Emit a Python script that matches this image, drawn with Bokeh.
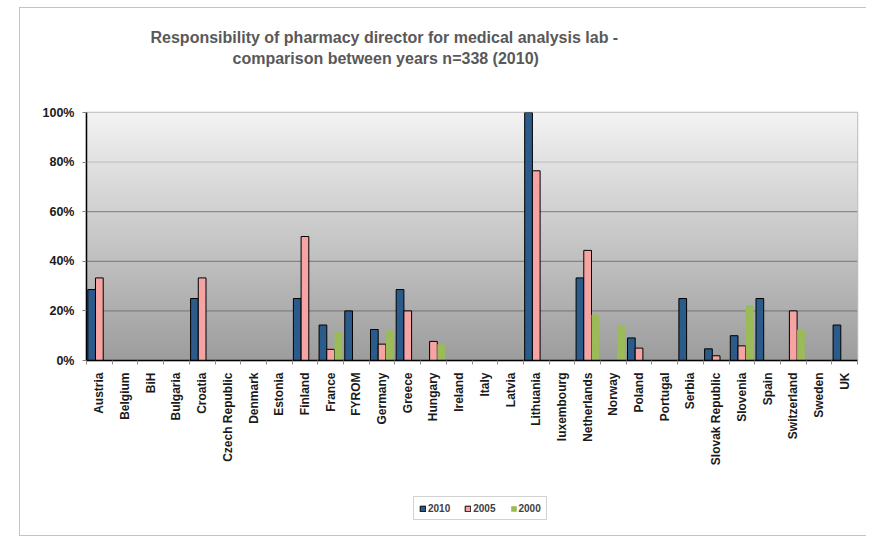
import numpy as np
from bokeh.plotting import figure
from bokeh.layouts import column
from bokeh.models import (Range1d, FixedTicker, NumeralTickFormatter,
                          Span, Legend, LegendItem, Title, ColumnDataSource)
from bokeh.transform import dodge
from bokeh.embed import file_html
from bokeh.resources import INLINE

countries = ["Austria", "Belgium", "BiH", "Bulgaria", "Croatia", "Czech Republic", "Denmark",
             "Estonia", "Finland", "France", "FYROM", "Germany", "Greece", "Hungary", "Ireland",
             "Italy", "Latvia", "Lithuania", "luxembourg", "Netherlands", "Norway", "Poland",
             "Portugal", "Serbia", "Slovak Republic", "Slovenia", "Spain", "Switzerland",
             "Sweden", "UK"]
years = ["2010", "2005", "2000"]
v2010 = [0.286, 0, 0, 0, 0.25, 0, 0, 0, 0.25, 0.143, 0.20, 0.125, 0.286, 0, 0,
         0, 0, 1.0, 0, 0.333, 0, 0.091, 0, 0.25, 0.047, 0.10, 0.25, 0, 0, 0.143]
v2005 = [0.333, 0, 0, 0, 0.333, 0, 0, 0, 0.50, 0.045, 0, 0.066, 0.20, 0.077, 0,
         0, 0, 0.765, 0, 0.444, 0, 0.05, 0, 0, 0.019, 0.059, 0, 0.20, 0, 0]
v2000 = [0, 0, 0, 0, 0, 0, 0, 0, 0, 0.114, 0, 0.121, 0, 0.066, 0,
         0, 0, 0, 0, 0.185, 0.141, 0, 0, 0, 0, 0.222, 0, 0.124, 0, 0]
y_ticks = [0, 0.2, 0.4, 0.6, 0.8, 1.0]
title_lines = ["Responsibility of pharmacy director for medical analysis lab  -",
               "comparison between years n=338 (2010)"]

colors = ["#2B5B8B", "#F6A3A3", "#9BBB59"]
outlines = ["black", "black", None]

n = len(countries)
# each category occupies 2 units on the x scale: centre at 2i+1, boundaries at 2i
centres = [2 * i + 1 for i in range(n)]
boundaries = [2 * i for i in range(n + 1)]
src = ColumnDataSource(dict(pos=centres, v2010=v2010, v2005=v2005, v2000=v2000))

p = figure(x_range=Range1d(0, 2 * n), y_range=Range1d(0, 1),
           width=846, height=467, output_backend="svg", toolbar_location=None,
           title=None,
           min_border_left=66, min_border_right=9, min_border_top=104, min_border_bottom=115)
p.background_fill_color = "white"
p.border_fill_color = "white"
p.outline_line_color = "#bdbdbd"
p.outline_line_width = 1.5
p.xgrid.visible = False
p.ygrid.visible = False

# gradient plot-area background
rows = 256
t = np.linspace(0, 1, rows)
bot = np.array([157, 157, 157])
top = np.array([242, 243, 242])
img = np.empty((rows, 1), dtype=np.uint32)
view = img.view(dtype=np.uint8).reshape((rows, 1, 4))
for i in range(3):
    view[:, 0, i] = (bot[i] + (top[i] - bot[i]) * t).astype(np.uint8)
view[:, 0, 3] = 255
bg = p.image_rgba(image=[img], x=0, y=0, dw=2 * n, dh=1)
bg.level = "image"

grid_colors = ["#7f7f7f", "#858585", "#8a8a8a", "#c2c2c2", "#c8c8c8"]
for yv, gc in zip(y_ticks[1:], grid_colors):
    p.add_layout(Span(location=yv, dimension="width", line_color=gc, line_width=1.2, level="underlay"))

offsets = [-0.6, 0.0, 0.6]
cols = ["v2010", "v2005", "v2000"]
for off, col, fc, lc in zip(offsets, cols, colors, outlines):
    p.vbar(x=dodge("pos", off), top=col, width=0.6, source=src,
           fill_color=fc, line_color=lc, line_width=1)

# y axis
p.yaxis.ticker = FixedTicker(ticks=y_ticks)
p.yaxis.formatter = NumeralTickFormatter(format="0%")
p.yaxis.major_label_text_font = "Liberation Sans"
p.yaxis.major_label_text_font_style = "bold"
p.yaxis.major_label_text_font_size = "12.5px"
p.yaxis.major_label_text_color = "#1a1a1a"
p.yaxis.major_tick_out = 4
p.yaxis.major_tick_in = 0
p.yaxis.major_tick_line_color = "#808080"
p.yaxis.minor_tick_line_color = None
p.yaxis.axis_line_color = "black"
p.yaxis.axis_line_width = 1.5
p.yaxis.major_label_standoff = 8

# x axis: labels at category centres, ticks at category boundaries
xa = p.xaxis[0]
xa.ticker = FixedTicker(ticks=centres, minor_ticks=boundaries)
xa.major_label_overrides = {tk: c for tk, c in zip(centres, countries)}
xa.major_label_orientation = np.pi / 2
xa.major_tick_line_color = None
xa.major_tick_out = 0
xa.major_tick_in = 0
xa.minor_tick_out = 4
xa.minor_tick_in = 0
xa.minor_tick_line_color = "#8c8c8c"
xa.axis_line_color = "black"
xa.axis_line_width = 1.5
xa.major_label_text_font = "Liberation Sans"
xa.major_label_text_font_style = "bold"
xa.major_label_text_font_size = "12px"
xa.major_label_text_color = "#1a1a1a"
xa.major_label_standoff = 8

# titles (a blank spacer title keeps them clear of the plot area)
spacer = Title(text=" ", text_font_size="2px", standoff=42)
t2 = Title(text=title_lines[1], align="left", offset=146, text_font="Liberation Sans",
           text_font_size="16px", text_font_style="bold", text_color="#595959", standoff=0)
t1 = Title(text=title_lines[0], align="left", offset=64, text_font="Liberation Sans",
           text_font_size="16px", text_font_style="bold", text_color="#595959", standoff=4)
p.add_layout(spacer, "above")
p.add_layout(t2, "above")
p.add_layout(t1, "above")

# legend strip under the chart (its bars lie outside its own view; only the legend shows)
p2 = figure(x_range=Range1d(0, 1), y_range=Range1d(2, 3), width=846, height=60,
            output_backend="svg", toolbar_location=None, title=None,
            x_axis_location=None, y_axis_location=None,
            min_border_left=0, min_border_right=0, min_border_top=0, min_border_bottom=0)
p2.outline_line_color = None
p2.xgrid.visible = False
p2.ygrid.visible = False
p2.background_fill_color = "white"
p2.border_fill_color = "white"
items = []
for yr, col, fc, lc in zip(years, cols, colors, outlines):
    rr = p2.vbar(x="pos", top=col, width=0.6, source=src,
                 fill_color=fc, line_color=lc, line_width=1)
    items.append(LegendItem(label=yr, renderers=[rr]))
legend = Legend(items=items, orientation="horizontal", location=(327, 15),
                border_line_color="#a6a6a6", border_line_width=1,
                background_fill_color="white", background_fill_alpha=1,
                label_text_font="Liberation Sans", label_text_font_size="10px",
                label_text_font_style="bold", label_text_color="#404040",
                glyph_width=7, glyph_height=7, label_standoff=2, spacing=14,
                padding=5, label_height=12, margin=0)
p2.add_layout(legend, "center")

layout = column(p, p2, spacing=0, margin=(7, 0, 0, 19))
layout.styles = {"border-left": "1px solid #c4c4c4", "border-top": "1px solid #c4c4c4",
                 "border-bottom": "1px solid #c4c4c4"}

open("out.html", "w").write(file_html(layout, INLINE))
